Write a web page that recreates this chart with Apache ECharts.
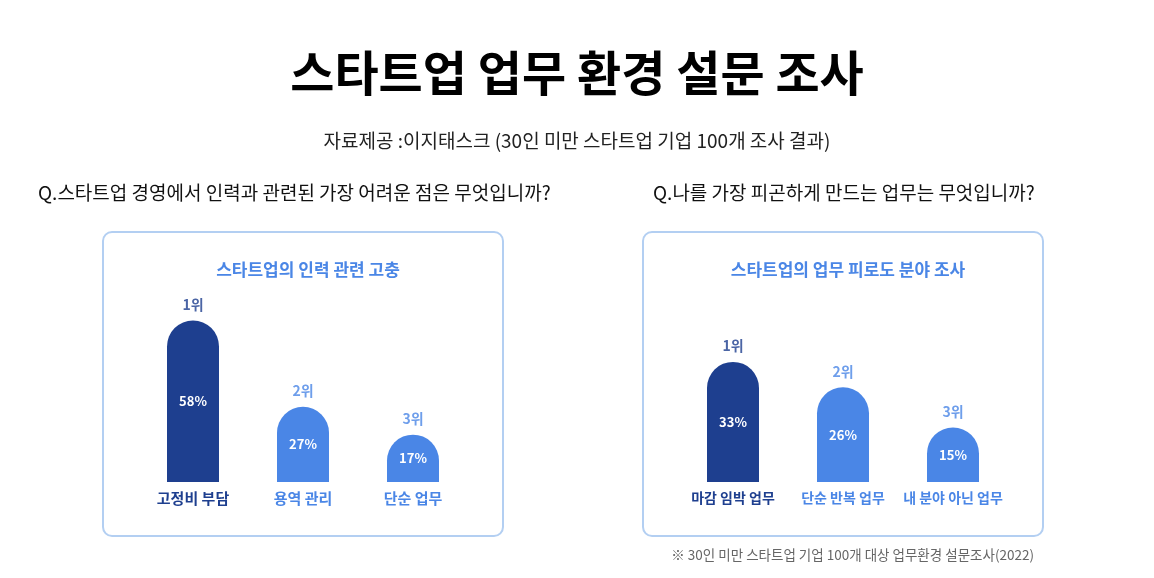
<!DOCTYPE html>
<html>
<head>
<meta charset="utf-8">
<script src="https://cdn.jsdelivr.net/npm/echarts@6/dist/echarts.min.js"></script>
<style>
html,body{margin:0;padding:0;background:#fff;}
#chart{width:1154px;height:578px;}
</style>
</head>
<body>
<div id="chart"></div>
<script>
var mainTitle = '스타트업 업무 환경 설문 조사';
var subTitle = '자료제공 :이지태스크 (30인 미만 스타트업 기업 100개 조사 결과)';
var question1 = 'Q.스타트업 경영에서 인력과 관련된 가장 어려운 점은 무엇입니까?';
var question2 = 'Q.나를 가장 피곤하게 만드는 업무는 무엇입니까?';
var panel1Title = '스타트업의 인력 관련 고충';
var panel2Title = '스타트업의 업무 피로도 분야 조사';
var footnote = '※ 30인 미만 스타트업 기업 100개 대상 업무환경 설문조사(2022)';

var categories1 = ['고정비 부담', '용역 관리', '단순 업무'];
var values1 = [58, 27, 17];
var categories2 = ['마감 임박 업무', '단순 반복 업무', '내 분야 아닌 업무'];
var values2 = [33, 26, 15];
var ranks = ['1위', '2위', '3위'];

var DARK = '#1e3f8f';
var BLUE = '#4a86e6';
var FONT = '"Noto Sans CJK KR", "Noto Sans", sans-serif';

function colorAt(i){ return i === 0 ? DARK : BLUE; }

function barSeries(idx, vals){
  return {
    type: 'bar', xAxisIndex: idx, yAxisIndex: idx,
    barWidth: 52,
    data: vals.map(function(v, i){
      return { value: v, itemStyle: { color: colorAt(i), borderRadius: [26, 26, 0, 0] } };
    }),
    label: {
      show: true, position: 'inside', color: '#fff', fontWeight: 'bold',
      fontSize: 13, fontFamily: FONT,
      formatter: function(p){ return p.value + '%'; }
    },
    silent: true, animation: false
  };
}
function rankSeries(idx, vals){
  return {
    type: 'scatter', xAxisIndex: idx, yAxisIndex: idx,
    symbolSize: 0,
    data: vals.map(function(v, i){
      return { value: v, label: { color: colorAt(i) } };
    }),
    label: {
      show: true, position: 'top', distance: 9, fontWeight: 'bold',
      fontSize: 14, fontFamily: FONT,
      formatter: function(p){ return ranks[p.dataIndex]; }
    },
    silent: true, animation: false
  };
}
function xAxis(idx, cats, fs){
  return {
    type: 'category', gridIndex: idx, data: cats,
    axisLine: { show: false }, axisTick: { show: false },
    axisLabel: {
      interval: 0, margin: 9, fontSize: fs, fontWeight: 'bold', fontFamily: FONT,
      formatter: function(v, i){ return '{' + (i === 0 ? 'a' : 'b') + '|' + v + '}'; },
      rich: {
        a: { color: DARK, fontSize: fs, fontWeight: 'bold', fontFamily: FONT },
        b: { color: BLUE, fontSize: fs, fontWeight: 'bold', fontFamily: FONT }
      }
    }
  };
}
function yAxis(idx, max){
  return { type: 'value', gridIndex: idx, min: 0, max: max, show: false, splitLine: { show: false } };
}

var chart = echarts.init(document.getElementById('chart'));
chart.setOption({
  backgroundColor: '#fff',
  animation: false,
  title: [
    { text: mainTitle, left: 'center', top: 44, textStyle: { fontSize: 48, fontWeight: 'bold', color: '#000', fontFamily: FONT } },
    { text: subTitle, left: 'center', top: 126, textStyle: { fontSize: 19, fontWeight: 'normal', color: '#222', fontFamily: FONT } },
    { text: question1, left: 33, top: 178, textStyle: { fontSize: 19, fontWeight: 'normal', color: '#111', fontFamily: FONT } },
    { text: question2, left: 648, top: 178, textStyle: { fontSize: 19, fontWeight: 'normal', color: '#111', fontFamily: FONT } },
    { text: panel1Title, left: 303, textAlign: 'center', top: 256, textStyle: { fontSize: 17, fontWeight: 'bold', color: BLUE, fontFamily: FONT } },
    { text: panel2Title, left: 843, textAlign: 'center', top: 256, textStyle: { fontSize: 17, fontWeight: 'bold', color: BLUE, fontFamily: FONT } },
    { text: footnote, right: 115, top: 543, textStyle: { fontSize: 13.5, fontWeight: 'normal', color: '#666', fontFamily: FONT } }
  ],
  graphic: [
    { type: 'rect', shape: { x: 103, y: 232, width: 400, height: 304, r: 9 }, style: { fill: 'none', stroke: '#b3cff2', lineWidth: 2 }, z: -1 },
    { type: 'rect', shape: { x: 643, y: 232, width: 400, height: 304, r: 9 }, style: { fill: 'none', stroke: '#b3cff2', lineWidth: 2 }, z: -1 }
  ],
  grid: [
    { left: 138, width: 330, top: 287, height: 195 },
    { left: 678, width: 330, top: 300, height: 182 }
  ],
  xAxis: [ xAxis(0, categories1, 15), xAxis(1, categories2, 14) ],
  yAxis: [ yAxis(0, 70), yAxis(1, 50) ],
  series: [
    barSeries(0, values1), rankSeries(0, values1),
    barSeries(1, values2), rankSeries(1, values2)
  ]
});
</script>
</body>
</html>
